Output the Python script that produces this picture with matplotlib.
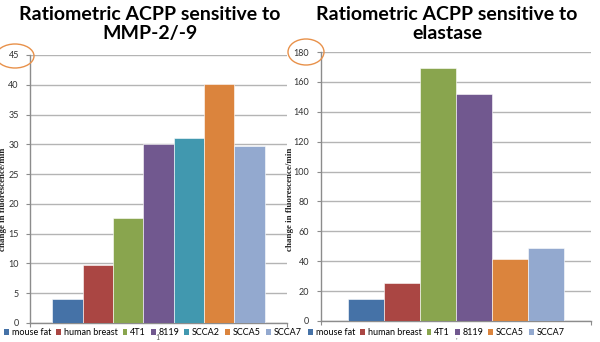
import matplotlib
matplotlib.use("Agg")
import matplotlib.pyplot as plt
from matplotlib.patches import Patch, Ellipse

# --- data ---
mmp_labels = ["mouse fat", "human breast", "4T1", "8119", "SCCA2", "SCCA5", "SCCA7"]
mmp_values = [4.0, 9.7, 17.6, 30.1, 31.1, 40.2, 29.7]

ela_labels = ["mouse fat", "human breast", "4T1", "8119", "SCCA5", "SCCA7"]
ela_values = [14.7, 25.6, 169.0, 152.0, 41.3, 48.8]

colors = {
    "mouse fat": "#4572A7",
    "human breast": "#AA4643",
    "4T1": "#89A54E",
    "8119": "#71588F",
    "SCCA2": "#4198AF",
    "SCCA5": "#DB843D",
    "SCCA7": "#93A9CF",
}

plt.rcParams["font.family"] = ["Lato", "DejaVu Sans"]
W, H = 600, 342
fig = plt.figure(figsize=(W / 100, H / 100), dpi=100)


def px_axes(x0, x1, ytop, ybot):
    return fig.add_axes([x0 / W, (H - ybot) / H, (x1 - x0) / W, (ybot - ytop) / H])


def draw_panel(ax, labels, values, ymax, step, margin):
    n = len(labels)
    xs = list(range(n))
    for x, lab, v in zip(xs, labels, values):
        ax.bar(x, v, width=1.0, color=colors[lab], edgecolor="white", linewidth=0.4, zorder=3)
    lo, hi = -0.5 - margin, n - 0.5 + margin
    ax.set_xlim(lo, hi)
    ax.set_ylim(0, ymax)
    ax.set_yticks(range(0, ymax + 1, step))
    ax.set_xticks([lo, hi])
    ax.set_xticklabels([])
    ax.yaxis.grid(True, color="#b4b4b4", linewidth=1.0, zorder=0)
    for s in ("top", "right"):
        ax.spines[s].set_visible(False)
    for s in ("left", "bottom"):
        ax.spines[s].set_color("#8c8c8c")
        ax.spines[s].set_linewidth(1.0)
    ax.tick_params(axis="both", colors="#8c8c8c", length=3, width=0.8,
                   labelsize=6.5, labelcolor="#333333", pad=5)
    ax.set_ylabel("change in fluorescence/min", fontsize=6.5, fontweight="bold",
                  color="#222222", family=["Liberation Serif", "DejaVu Serif"])
    ax.set_axisbelow(True)


ax1 = px_axes(30, 287, 55, 323)
draw_panel(ax1, mmp_labels, mmp_values, 45, 5, 0.73)
ax1.yaxis.set_label_coords(-0.088, 0.463)

ax2 = px_axes(320.5, 590.5, 52, 321)
draw_panel(ax2, ela_labels, ela_values, 180, 20, 0.75)
ax2.yaxis.set_label_coords(-0.097, 0.454)

# titles
fig.text(150 / W, 1 - 24 / H, "Ratiometric ACPP sensitive to\nMMP-2/-9", ha="center",
         va="center", fontsize=14, fontweight="bold", linespacing=1.2)
fig.text(447 / W, 1 - 24 / H, "Ratiometric ACPP sensitive to\nelastase", ha="center",
         va="center", fontsize=14, fontweight="bold", linespacing=1.2)

# legends
for ax_labels, x0 in ((mmp_labels, 4 / W), (ela_labels, 308 / W)):
    handles = [Patch(facecolor=colors[l], edgecolor="none") for l in ax_labels]
    fig.legend(handles, ax_labels, loc="center left", bbox_to_anchor=(x0, 1 - 332.5 / H),
               ncol=len(ax_labels), frameon=False, fontsize=6.5,
               handlelength=0.55, handleheight=0.55, handletextpad=0.3,
               columnspacing=0.55, borderpad=0, borderaxespad=0)

fig.text(157 / W, 1 - 337 / H, "1", fontsize=5, color="#555555", ha="center", va="center")
fig.text(456 / W, 1 - 337 / H, ",", fontsize=5, color="#555555", ha="center", va="center")

# orange highlight ellipses around the top tick labels
for cx, cy, w, h in ((15, 56, 38, 24), (306, 52, 36, 26)):
    e = Ellipse((cx / W, 1 - cy / H), w / W, h / H, transform=fig.transFigure,
                fill=False, edgecolor="#E8914A", linewidth=1.0)
    fig.add_artist(e)

fig.savefig("out.png", dpi=100)
